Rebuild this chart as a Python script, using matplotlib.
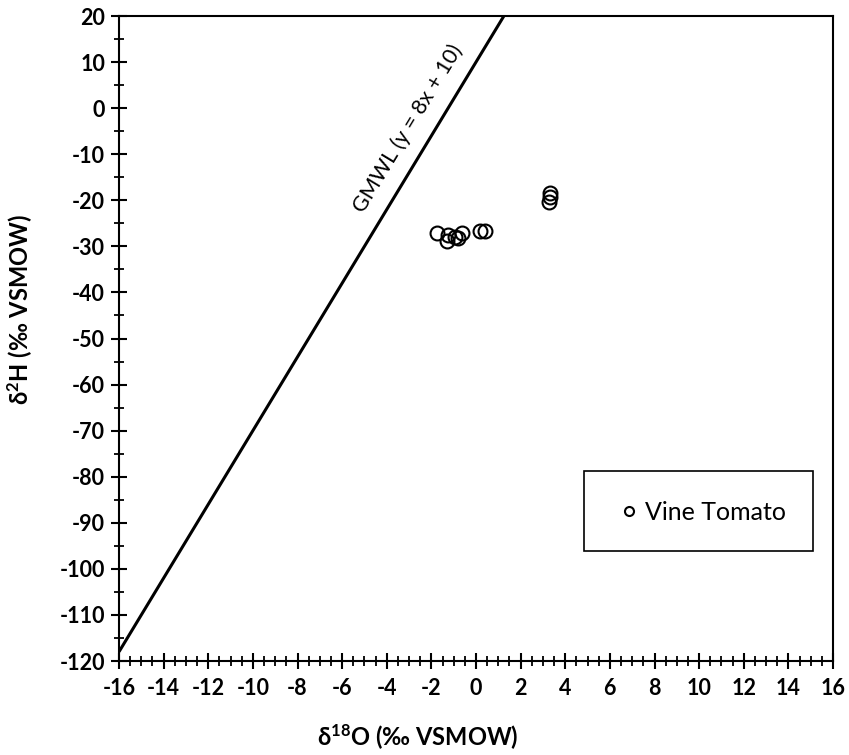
import matplotlib
matplotlib.use("Agg")
import matplotlib.pyplot as plt
import numpy as np
from matplotlib.ticker import MultipleLocator
from matplotlib import font_manager as fm
from matplotlib.patches import Rectangle


def _w(f):
    w = f.weight
    if isinstance(w, str):
        w = fm.weight_dict.get(w, 400)
    return w

lato_bold = [f for f in fm.fontManager.ttflist
             if f.name.startswith('Lato') and _w(f) >= 600 and f.style == 'normal']
if lato_bold:
    lato_bold.sort(key=lambda f: abs(_w(f) - 700))
    BOLD_FAM = lato_bold[0].name
else:
    BOLD_FAM = 'Open Sans'
REG_FAM = 'Lato'

plt.rcParams['font.family'] = [REG_FAM, 'DejaVu Sans']
plt.rcParams['axes.unicode_minus'] = False
plt.rcParams['mathtext.fontset'] = 'custom'
plt.rcParams['mathtext.rm'] = BOLD_FAM + ':bold'
plt.rcParams['mathtext.bf'] = BOLD_FAM + ':bold'
plt.rcParams['mathtext.default'] = 'bf'

# data
d18O = [-1.75, -1.25, -1.30, -0.94, -0.63, -0.80, 0.18, 0.40, 3.32, 3.27, 3.30]
d2H = [-27.1, -27.5, -28.8, -28.0, -27.1, -28.2, -26.7, -26.7, -18.4, -20.4, -19.3]
series_name = "Vine Tomato"
gmwl_x = [-16, 1.25]
gmwl_slope = 8
gmwl_intercept = 10
xticks = list(range(-16, 17, 2))
yticks = list(range(-120, 21, 10))

fig = plt.figure(figsize=(8.49, 7.55), dpi=100)
ax = fig.add_axes([119/849, 1-661/755, 714/849, 645/755])

gx = np.array(gmwl_x)
ax.plot(gx, gmwl_slope*gx + gmwl_intercept, color='black', lw=2.2, solid_capstyle='butt')
ax.plot(d18O, d2H, linestyle='none', marker='o', markersize=10, markerfacecolor='none',
        markeredgecolor='black', markeredgewidth=1.5, label=series_name)

ax.set_xlim(-16, 16)
ax.set_ylim(-120, 20)
ax.set_xticks(xticks)
ax.set_yticks(yticks)
ax.xaxis.set_minor_locator(MultipleLocator(0.5))
ax.yaxis.set_minor_locator(MultipleLocator(5))
ax.tick_params(which='major', direction='inout', length=12, width=1.5, labelsize=15.5)
ax.tick_params(which='minor', direction='inout', length=7, width=1.3)
for lab in ax.get_xticklabels() + ax.get_yticklabels():
    lab.set_family([BOLD_FAM, 'DejaVu Sans'])
    lab.set_fontweight('bold')
for s in ax.spines.values():
    s.set_linewidth(1.5)
ax.tick_params(axis='x', pad=6)
ax.tick_params(axis='y', pad=4)

ax.set_xlabel(r'δ$^{18}$O (‰ VSMOW)', fontsize=17, fontweight='bold',
              family=[BOLD_FAM, 'DejaVu Sans'])
ax.xaxis.set_label_coords(0.418, -0.095)
ax.set_ylabel(r'δ$^{2}$H (‰ VSMOW)', fontsize=17, fontweight='bold',
              family=[BOLD_FAM, 'DejaVu Sans'])
ax.yaxis.set_label_coords(-0.117, 0.545)

ang = np.degrees(np.arctan(gmwl_slope * (645/140) / (714/32)))
ax.text(-3.05, -4.5, 'GMWL (y = 8x + 10)', rotation=ang, rotation_mode='anchor',
        ha='center', va='center', fontsize=15.5)

ax.add_patch(Rectangle((0.651, 0.171), 0.321, 0.124, transform=ax.transAxes,
                       fill=False, edgecolor='black', lw=1.2, zorder=4))
leg = ax.legend(loc='center', bbox_to_anchor=(0.817, 0.231), fontsize=18,
                frameon=False, handletextpad=0.25, borderaxespad=0, borderpad=0,
                handlelength=0.8, markerscale=0.65)

fig.savefig('out.png', dpi=100)
